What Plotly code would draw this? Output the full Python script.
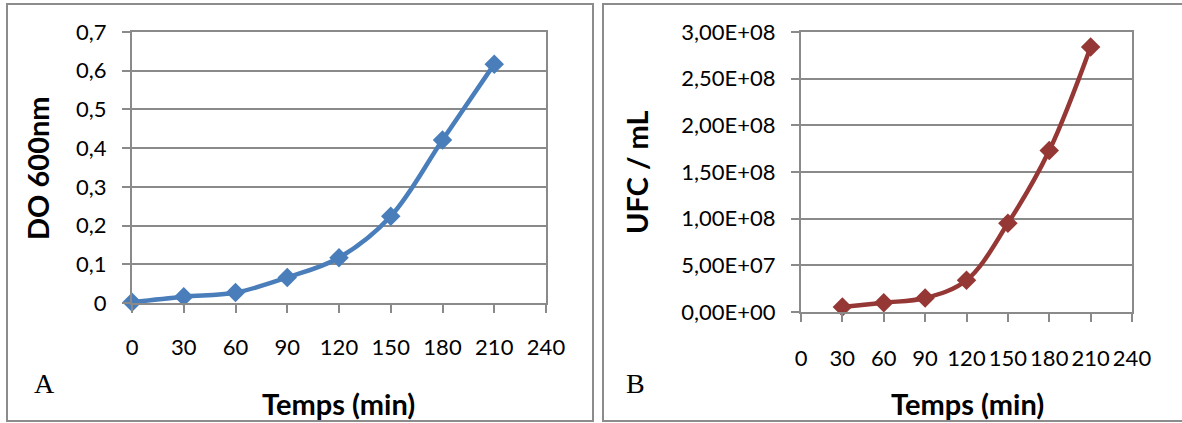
import plotly.graph_objects as go

W, H = 1182, 423

# Data
temps_a = [0, 30, 60, 90, 120, 150, 180, 210]
do_600 = [0.002, 0.016, 0.027, 0.066, 0.117, 0.224, 0.421, 0.617]

temps_b = [30, 60, 90, 120, 150, 180, 210]
ufc_ml = [5.4e6, 1.0e7, 1.5e7, 3.4e7, 9.5e7, 1.73e8, 2.84e8]

x_ticks = [0, 30, 60, 90, 120, 150, 180, 210, 240]
x_ticktext = ["0", "30", "60", "90", "120", "150", "180", "210", "240"]
ya_ticks = [0, 0.1, 0.2, 0.3, 0.4, 0.5, 0.6, 0.7]
ya_ticktext = ["0", "0,1", "0,2", "0,3", "0,4", "0,5", "0,6", "0,7"]
yb_ticks = [0, 5e7, 1e8, 1.5e8, 2e8, 2.5e8, 3e8]
yb_ticktext = ["0,00E+00", "5,00E+07", "1,00E+08", "1,50E+08", "2,00E+08", "2,50E+08", "3,00E+08"]

BLUE = "#4A7EBB"
RED = "#953735"
GRID = "#8a8a8a"
FONT = "Lato"

fig = go.Figure()
fig.add_trace(go.Scatter(
    x=temps_a, y=do_600, mode="lines+markers", line=dict(color=BLUE, width=4.5, shape="spline"),
    marker=dict(symbol="diamond", size=15, color=BLUE), cliponaxis=False,
    xaxis="x", yaxis="y", showlegend=False))
fig.add_trace(go.Scatter(
    x=temps_b, y=ufc_ml, mode="lines+markers", line=dict(color=RED, width=4.5, shape="spline"),
    marker=dict(symbol="diamond", size=15, color=RED), cliponaxis=False,
    xaxis="x2", yaxis="y2", showlegend=False))

def px_x(p):
    return p / W

def px_y(p):
    return 1 - p / H

tickfont = dict(family=FONT, size=22, color="#000000")
common_x = dict(range=[0, 240], tickvals=x_ticks, ticktext=x_ticktext, tickangle=0,
                showgrid=False, showline=True, linecolor=GRID, linewidth=2, mirror=True,
                ticks="outside", ticklen=8, tickwidth=2, tickcolor=GRID, tickfont=tickfont,
                zeroline=False, automargin=False)
common_y = dict(showgrid=True, gridcolor=GRID, gridwidth=2, showline=True, linecolor=GRID,
                linewidth=2, mirror=True, ticks="outside", ticklen=8, tickwidth=2,
                tickcolor=GRID, tickfont=tickfont, ticklabelstandoff=11, zeroline=False,
                automargin=False)

fig.update_layout(
    template="none",
    width=W, height=H, margin=dict(l=0, r=0, t=0, b=0, pad=0, autoexpand=False),
    paper_bgcolor="white", plot_bgcolor="white", showlegend=False,
    xaxis=dict(domain=[px_x(132), px_x(546)], anchor="y", ticklabelstandoff=16, **common_x),
    yaxis=dict(domain=[px_y(303), px_y(32)], anchor="x", range=[0, 0.7],
               tickvals=ya_ticks, ticktext=ya_ticktext, **common_y),
    xaxis2=dict(domain=[px_x(801), px_x(1132)], anchor="y2", ticklabelstandoff=18, **common_x),
    yaxis2=dict(domain=[px_y(312), px_y(32)], anchor="x2", range=[0, 3e8],
                tickvals=yb_ticks, ticktext=yb_ticktext, **common_y),
)

shapes = [
    dict(type="rect", xref="paper", yref="paper", x0=px_x(7), x1=px_x(593), y0=px_y(421), y1=px_y(4),
         line=dict(color="#8c8c8c", width=2), fillcolor="rgba(0,0,0,0)", layer="below"),
    dict(type="rect", xref="paper", yref="paper", x0=px_x(603), x1=px_x(1190), y0=px_y(421), y1=px_y(4),
         line=dict(color="#8c8c8c", width=2), fillcolor="rgba(0,0,0,0)", layer="below"),
]
fig.update_layout(shapes=shapes)

title_font = dict(family=FONT, size=29, color="#000000")
letter_font = dict(family="Liberation Serif", size=28, color="#000000")
annotations = [
    dict(text="<b>DO 600nm</b>", x=px_x(37), y=px_y(168), textangle=-90, font=title_font),
    dict(text="<b>Temps (min)</b>", x=px_x(338), y=px_y(403), font=title_font),
    dict(text="A", x=px_x(44), y=px_y(383), font=letter_font),
    dict(text="<b>UFC / mL</b>", x=px_x(637), y=px_y(172), textangle=-90, font=title_font),
    dict(text="<b>Temps (min)</b>", x=px_x(967), y=px_y(403), font=title_font),
    dict(text="B", x=px_x(635), y=px_y(383), font=letter_font),
]
for a in annotations:
    a.update(xref="paper", yref="paper", showarrow=False, xanchor="center", yanchor="middle")
fig.update_layout(annotations=annotations)

fig.write_html("out.html", config={"displayModeBar": False},
               post_script="document.body.style.margin='0';document.body.style.overflow='hidden';")
